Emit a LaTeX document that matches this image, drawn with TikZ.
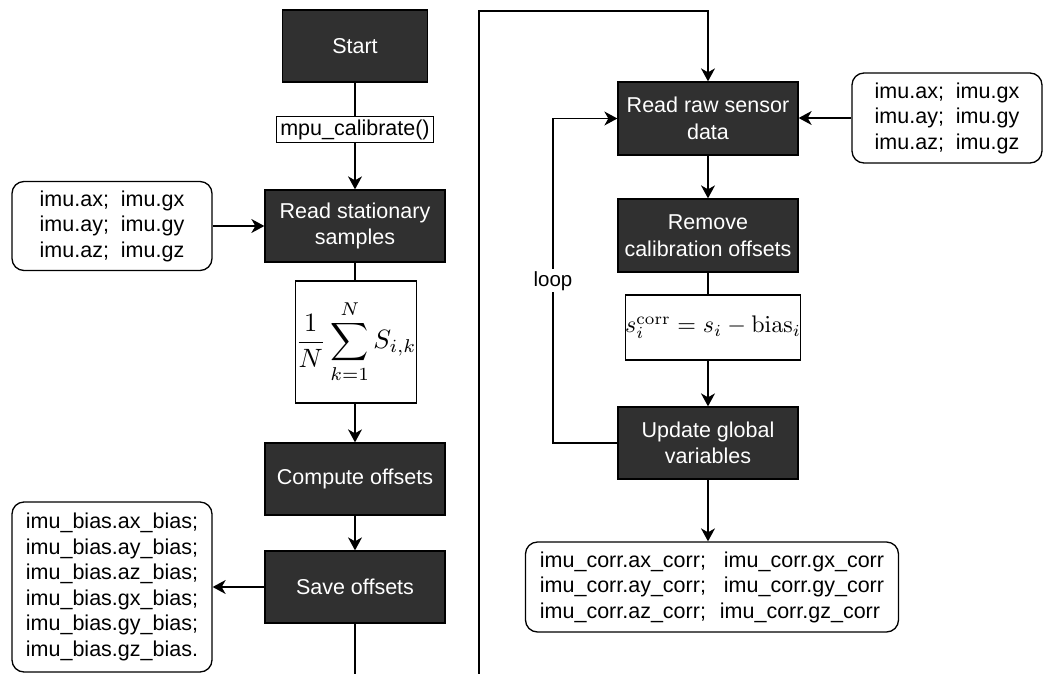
\documentclass[tikz,border=0pt]{standalone}
\usepackage[no-math]{fontspec}
\usepackage{graphicx}
\setmainfont{Liberation Sans}
\usetikzlibrary{arrows.meta}
\definecolor{boxdark}{HTML}{303030}
\tikzset{
  flow/.style={draw=black, fill=boxdark, text=white, line width=1.3pt,
    minimum width=180pt, minimum height=72pt, inner sep=0pt, align=center,
    font=\fontsize{21.5}{26.5}\selectfont},
  iobox/.style={draw=black, fill=white, rounded corners=12pt, line width=1.3pt,
    align=center, inner sep=0pt, font=\fontsize{21.5}{25.5}\selectfont},
  mathbox/.style={draw=black, fill=white, line width=1.3pt, inner sep=0pt},
  callbox/.style={draw=black, fill=white, line width=1.3pt, inner xsep=4pt,
    inner ysep=3pt, font=\fontsize{21.5}{25.5}\selectfont},
  tag/.style={fill=white, inner sep=2pt, font=\fontsize{20.5}{24}\selectfont},
  wire/.style={line width=1.3pt},
  conn/.style={wire, -{Stealth[length=13pt,width=14pt,inset=4pt]}}
}
\begin{document}
\begin{tikzpicture}[x=1pt,y=-1pt]
\useasboundingbox (0,0) rectangle (1053,673);
\clip (0,0) rectangle (1053,673);

% ---- calibration column ----
\node[flow, minimum width=145pt] (start) at (355,46) {Start};
\node[flow] (readstat) at (355,226) {Read stationary\\samples};
\node[mathbox, minimum width=119pt, minimum height=122pt] (avg) at (356,342)
  {\scalebox{2.65}{$\displaystyle\frac{1}{N}\sum_{k=1}^{N}S_{i,k}$}};
\node[flow] (compute) at (355,479) {Compute offsets};
\node[flow] (save) at (355,587) {Save offsets};

\node[iobox, minimum width=200pt, minimum height=89pt] (imuin) at (112,226)
  {imu.ax;\ \ imu.gx\\imu.ay;\ \ imu.gy\\imu.az;\ \ imu.gz};
\node[iobox, minimum width=200pt, minimum height=170pt] (bias) at (112,587)
  {imu\_bias.ax\_bias;\\imu\_bias.ay\_bias;\\imu\_bias.az\_bias;\\
   imu\_bias.gx\_bias;\\imu\_bias.gy\_bias;\\imu\_bias.gz\_bias.};

% ---- runtime column ----
\node[flow, minimum height=73pt] (readraw) at (708,118.5) {Read raw sensor\\data};
\node[iobox, minimum width=190pt, minimum height=90pt] (imuin2) at (947,118)
  {imu.ax;\ \ imu.gx\\imu.ay;\ \ imu.gy\\imu.az;\ \ imu.gz};
\node[flow, minimum height=73pt] (remove) at (708,235.5) {Remove\\calibration offsets};
\node[mathbox, minimum width=170pt, minimum height=65pt] (corr) at (713,327.5)
  {\scalebox{2.4}{$s_i^{\mathrm{corr}} = s_i - \mathrm{bias}_i$}};
\node[flow] (update) at (708,443) {Update global\\variables};
\node[iobox, minimum width=373pt, minimum height=90pt, align=left] (out) at (712,587)
  {imu\_corr.ax\_corr;\hspace{18pt}imu\_corr.gx\_corr\\
   imu\_corr.ay\_corr;\hspace{18pt}imu\_corr.gy\_corr\\
   imu\_corr.az\_corr;\hspace{14pt}imu\_corr.gz\_corr};

% ---- connectors ----
\draw[conn] (start) -- node[callbox, pos=0.44] (call) {mpu\_calibrate()} (readstat);
\draw[conn] (imuin) -- (readstat);
\draw[wire] (readstat) -- (readstat.south |- avg.north);
\draw[conn] (compute.north |- avg.south) -- (compute);
\draw[conn] (compute) -- (save);
\draw[conn] (save) -- (bias);

\coordinate (offpage) at (355,700);
\coordinate (topturn) at (479,11);
\draw[conn] (save.south) -- (offpage) -| (topturn) -| (readraw.north);

\draw[conn] (imuin2) -- (readraw.east |- imuin2.west);
\draw[conn] (readraw) -- (remove);
\draw[wire] (remove) -- (remove.south |- corr.north);
\draw[conn] (update.north |- corr.south) -- (update);
\draw[conn] (update.south) -- (update.south |- out.north);

\coordinate (loopdown) at (553,443);
\coordinate (loopup) at (553,118.5);
\draw[conn] (update.west) -- (loopdown) -- node[tag] (looptag) {loop} (loopup) -- (readraw.west);
\end{tikzpicture}
\end{document}
